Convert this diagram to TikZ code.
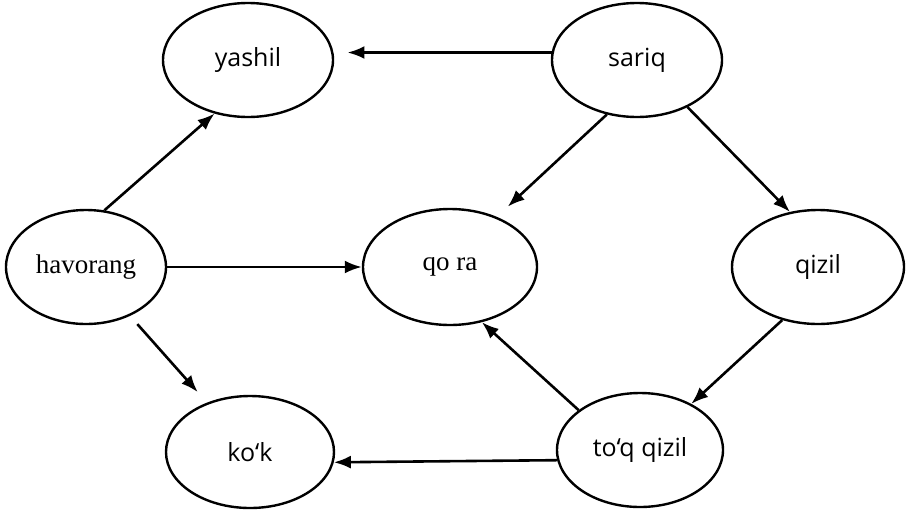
\documentclass[tikz,border=0pt]{standalone}
\usepackage{fontspec}
\setmainfont{Liberation Serif}
\newfontfamily\lblsans{Open Sans}
\usetikzlibrary{arrows.meta,shapes.geometric}
\begin{document}
\begin{tikzpicture}[x=1pt,y=-1pt,
  oval/.style={draw,ellipse,line width=2.4pt,inner sep=0pt,minimum width=170pt,minimum height=114pt},
  sanslbl/.style={font=\lblsans\fontsize{25}{29}\selectfont},
  seriflbl/.style={font=\fontsize{27}{31}\selectfont},
  arr/.style={-{Latex[length=17pt,width=13pt]},line width=2.6pt}]
\useasboundingbox[fill=white] (0,0) rectangle (909,509);
\node[oval,sanslbl] (yashil) at (248,60) {yashil};
\node[oval,sanslbl] (sariq) at (637,60) {sariq};
\node[oval,seriflbl,minimum width=160pt] (havorang) at (86,267) {havorang};
\node[oval,seriflbl,minimum width=174pt,minimum height=116pt] (qora) at (450,267) {qo ra};
\node[oval,sanslbl,minimum width=172pt] (qizil) at (818,267) {qizil};
\node[oval,sanslbl,minimum width=168pt,minimum height=112pt] (kok) at (250,452) {ko‘k};
\node[oval,sanslbl,minimum width=166pt] (toq) at (640,450) {to‘q qizil};
\draw[arr] (sariq.175) -- ([xshift=14pt]yashil.5);
\draw[arr] (havorang.72) -- (yashil.238);
\draw[arr,shorten >=15pt] (sariq.241) -- (qora.47);
\draw[arr] (sariq.-43.5) -- (qizil.117);
\draw[arr] (havorang.east) -- (qora.west);
\draw[arr,shorten <=11pt,shorten >=14pt] (havorang.-48) -- (kok.131);
\draw[arr] (qizil.236) -- (toq.42);
\draw[arr] (toq.147) -- (qora.-60);
\draw[arr] (toq.187) -- (kok.353);
\end{tikzpicture}
\end{document}
